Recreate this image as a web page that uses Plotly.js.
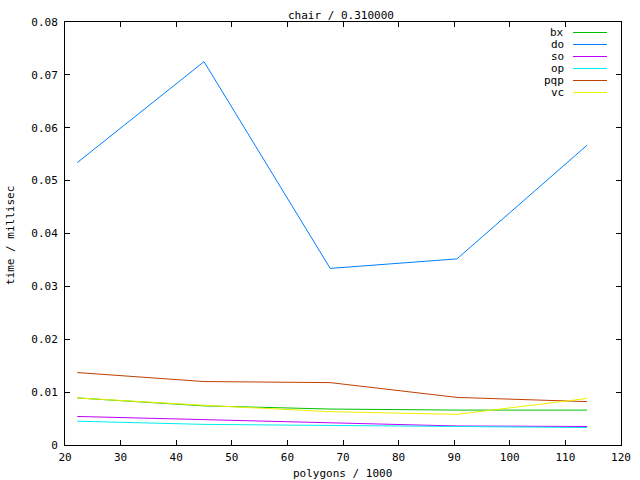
<!DOCTYPE html>
<html>
<head>
<meta charset="utf-8">
<script src="https://cdn.plot.ly/plotly-3.0.1.min.js"></script>
<style>html,body{margin:0;padding:0;background:#fff;}#chart{width:640px;height:480px;}</style>
</head>
<body>
<div id="chart"></div>
<script>
const polygons = [22.2, 45.0, 67.7, 90.5, 113.9];
const seriesNames = ["bx", "do", "so", "op", "pqp", "vc"];
const seriesColors = ["#00c000", "#0080ff", "#c000ff", "#00eeee", "#c04000", "#eeee00"];
const bx  = [0.0089, 0.0074, 0.0068, 0.0066, 0.0066];
const doV = [0.0534, 0.0725, 0.0334, 0.0352, 0.0567];
const so  = [0.0054, 0.0048, 0.0043, 0.0036, 0.0035];
const op  = [0.0045, 0.0039, 0.0037, 0.0035, 0.0033];
const pqp = [0.0137, 0.0120, 0.0118, 0.0090, 0.0082];
const vc  = [0.0089, 0.0075, 0.0063, 0.0058, 0.0088];
const seriesValues = [bx, doV, so, op, pqp, vc];

const FONT = "DejaVu Sans Mono";
const FS = 11;
const traces = seriesNames.map((n, i) => ({
  type: "scatter", mode: "lines", name: n,
  x: polygons, y: seriesValues[i],
  line: {color: seriesColors[i], width: 1},
  showlegend: false
}));

const W = 640, H = 480;
const annotations = [
  {text: "chair / 0.310000", xref: "paper", yref: "paper", x: (341-65)/556, y: (445-15.5)/423,
   showarrow: false, xanchor: "center", yanchor: "middle", font: {family: FONT, size: FS, color: "#000"}},
  {text: "polygons / 1000", xref: "paper", yref: "paper", x: (342-65)/556, y: -(473-445)/423,
   showarrow: false, xanchor: "center", yanchor: "middle", font: {family: FONT, size: FS, color: "#000"}},
  {text: "time / millisec", xref: "paper", yref: "paper", x: -(65-11)/556, y: (445-235)/423, textangle: -90,
   showarrow: false, xanchor: "center", yanchor: "middle", font: {family: FONT, size: FS, color: "#000"}}
];
const shapes = [];
seriesNames.forEach((n, i) => {
  const py = 32.5 + i * 12;
  const yp = (445 - py) / 423;
  annotations.push({text: n, xref: "paper", yref: "paper", x: (566-65)/556, y: yp,
    showarrow: false, xanchor: "right", yanchor: "middle", font: {family: FONT, size: FS, color: "#000"}});
  shapes.push({type: "line", xref: "paper", yref: "paper", x0: (573-65)/556, x1: (607-65)/556, y0: yp, y1: yp,
    line: {color: seriesColors[i], width: 1}});
});

const axisCommon = {
  showgrid: false, zeroline: false, showline: true, linecolor: "#000", linewidth: 1,
  mirror: "ticks", ticks: "inside", ticklen: 5, tickcolor: "#000", tickwidth: 1,
  tickfont: {family: FONT, size: FS, color: "#000"}
};
const layout = {
  width: W, height: H,
  margin: {l: 65, r: 19, t: 22, b: 35, pad: 0},
  paper_bgcolor: "#fff", plot_bgcolor: "#fff",
  showlegend: false,
  xaxis: Object.assign({}, axisCommon, {range: [20, 120], dtick: 10, tick0: 0, ticklabelstandoff: 2}),
  yaxis: Object.assign({}, axisCommon, {range: [0, 0.08], dtick: 0.01, tick0: 0, ticklabelstandoff: 4}),
  annotations: annotations, shapes: shapes
};
Plotly.newPlot("chart", traces, layout, {staticPlot: true, displayModeBar: false});
</script>
</body>
</html>
